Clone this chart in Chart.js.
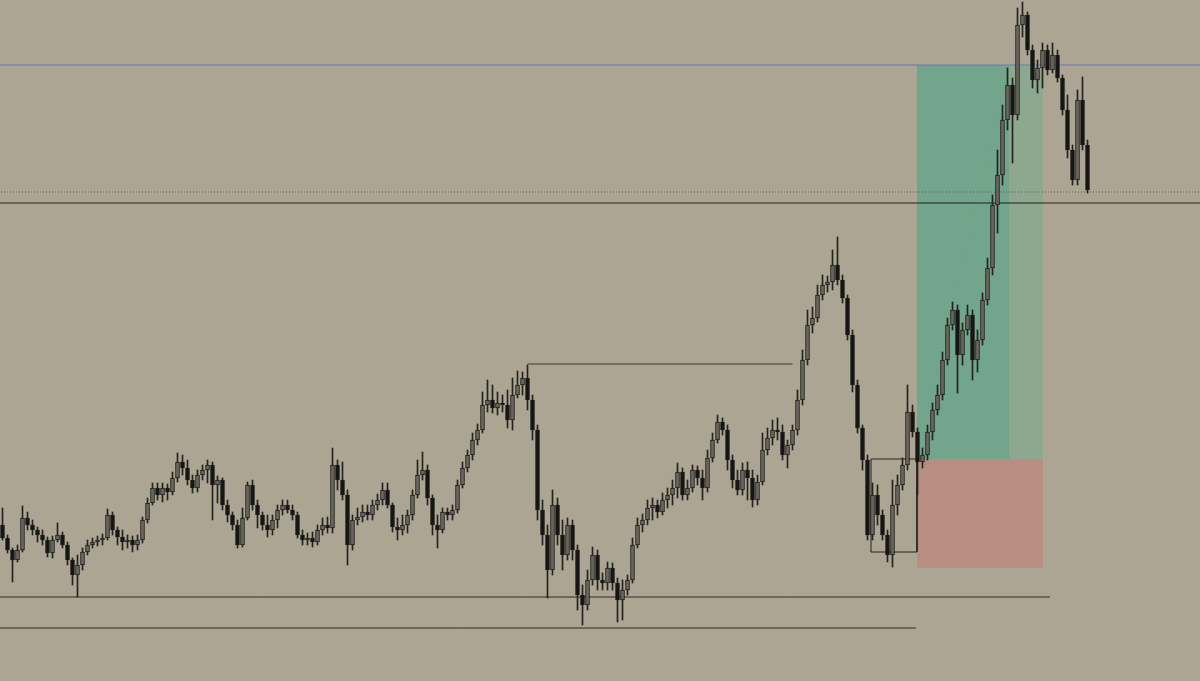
<!DOCTYPE html>
<html><head><meta charset="utf-8">
<script src="https://cdn.jsdelivr.net/npm/chart.js@4"></script>
<style>html,body{margin:0;padding:0;background:#ADA593;overflow:hidden}canvas{display:block}</style>
</head><body><canvas id="c" width="1200" height="681"></canvas>
<script>
// Candles (price units, one candle per slot)
const OPEN=[175,162,150,140,150,182,175,170,165,160,
147,160,165,155,140,125,135,148,155,158,
160,162,185,170,163,158,160,155,160,180,
197,212,205,212,208,222,238,232,220,212,
225,230,235,215,220,195,185,175,155,182,
215,195,185,175,170,180,190,195,190,185,
165,160,162,158,170,175,172,235,220,205,
155,180,183,188,185,195,200,210,195,173,
170,175,185,205,225,230,202,175,170,188,
185,190,215,232,245,260,270,295,300,292,
297,295,280,305,315,322,300,270,190,165,
130,195,165,145,175,150,105,95,120,145,
120,117,132,117,100,110,120,155,175,180,
192,195,188,200,205,212,228,205,212,230,
222,212,242,260,278,270,240,220,210,230,
222,200,218,250,262,270,268,245,255,270,
300,340,375,382,405,415,418,435,420,402,
365,315,272,240,165,205,185,165,145,195,
215,235,288,268,238,245,268,290,305,340,
375,390,345,370,385,340,360,400,432,495,
525,580,615,585,675,685,650,620,632,650,
630,645,622,590,550,520,600,555];
const HIGH=[192,165,152,155,194,188,180,173,170,163,
164,177,168,158,142,145,152,160,162,164,
166,191,188,173,170,165,164,165,183,202,
217,217,217,216,228,247,245,240,225,230,
235,240,238,224,222,200,188,180,192,218,
220,200,188,185,185,195,200,200,195,188,
170,167,168,175,182,183,252,240,238,210,
185,192,195,195,200,206,217,217,197,182,
185,190,210,240,248,235,205,185,192,192,
195,220,238,250,267,276,308,320,315,308,
305,310,322,329,328,335,305,275,200,175,
210,202,180,182,180,155,115,130,153,150,
127,138,137,122,120,125,162,182,186,200,
202,200,207,212,220,237,232,220,235,234,
230,250,267,285,282,275,245,230,237,238,
230,225,267,272,280,282,275,260,275,310,
350,390,393,415,425,424,450,463,425,405,
370,320,275,245,217,215,190,170,220,225,
242,315,295,272,252,275,297,315,348,382,
398,395,377,395,390,370,407,442,505,550,
595,632,622,692,698,688,655,640,657,655,
657,650,625,605,555,610,623,560];
const LOW=[160,147,118,138,148,170,165,158,155,143,
142,158,152,135,115,103,130,145,152,154,
155,160,165,155,150,152,148,150,157,177,
195,200,198,200,205,218,225,215,207,208,
220,217,180,197,190,178,170,152,153,180,
190,172,170,163,165,172,185,187,180,162,
155,155,153,155,165,167,167,210,200,135,
150,175,178,180,180,190,195,192,168,160,
165,167,180,202,220,195,165,152,167,180,
180,187,212,228,240,255,267,288,287,285,
288,272,270,302,305,290,260,180,155,102,
125,155,130,140,140,90,75,90,115,110,
110,110,110,78,80,105,117,152,168,175,
180,182,185,192,195,202,200,200,208,215,
200,208,238,257,265,230,212,205,205,200,
193,195,215,245,255,260,240,232,250,265,
295,335,367,378,400,408,410,415,397,360,
308,267,230,160,160,175,160,138,133,185,
210,230,263,205,232,240,260,285,300,335,
370,307,335,365,320,328,355,395,425,467,
515,570,537,580,663,645,612,607,612,625,
627,618,585,542,515,515,550,507];
const CLOSE=[162,150,140,150,182,175,170,165,160,147,
160,165,155,140,125,135,148,155,158,160,
162,185,170,163,158,160,155,160,180,197,
212,205,212,208,222,238,232,220,212,225,
230,235,215,220,195,185,175,155,182,215,
195,185,175,170,180,190,195,190,185,165,
160,162,158,170,175,172,235,220,205,155,
180,183,188,185,195,200,210,195,173,170,
175,185,205,225,230,202,175,170,188,185,
190,215,232,245,260,270,295,300,292,297,
295,280,305,315,322,300,270,190,165,130,
195,165,145,175,150,105,95,120,145,120,
117,132,117,100,110,120,155,175,180,192,
195,188,200,205,212,228,205,212,230,222,
212,242,260,278,270,240,220,210,230,222,
200,218,250,262,270,268,245,255,270,300,
340,375,382,405,415,418,435,420,402,365,
315,272,240,165,205,185,165,145,195,215,
235,288,268,238,245,268,290,305,340,375,
390,345,370,385,340,360,400,432,495,525,
580,615,585,675,685,650,620,632,650,630,
645,622,590,550,520,600,555,510];

// Horizontal levels (price) and their time spans (candle index)
const LEVEL_BLUE=635, LEVEL_BID=508, LEVEL_MAIN=497;
const LEVEL_SWING=336, SWING_FROM=105, SWING_TO=158;
const LEVEL_LOW1=103, LOW1_TO=209.5;
const LEVEL_LOW2=72, LOW2_TO=182.7;
// Consolidation box
const BOX_FROM=173.7, BOX_TO=182.9, BOX_TOP=241, BOX_BOTTOM=148;
// Long position tool
const POS_FROM=182.9, POS_MID=201.3, POS_TO=208.1;
const ENTRY=241, TARGET=635, STOP=132;

const idx = OPEN.map((_, i) => i);
const bull = idx.map(i => CLOSE[i] >= OPEN[i]);
const LEFT=-0.5, RIGHT=239.5;

const hline = (y, x0, x1, color, dash, order) => ({
  type:'line', data:[{x:x0,y},{x:x1,y}], borderColor:color, borderWidth:1,
  borderDash:dash||[], pointRadius:0, fill:false, order:order||5, tension:0
});
const rect = (x0, x1, top, bottom, color) => ({
  type:'line', data:[{x:x0,y:top},{x:x1,y:top}], borderWidth:0, borderColor:'rgba(0,0,0,0)',
  pointRadius:0, fill:{value:bottom}, backgroundColor:color, order:10
});

new Chart(document.getElementById('c'), {
  type:'bar',
  data:{datasets:[
    rect(POS_FROM, POS_MID, TARGET, ENTRY, '#72A58C'),
    rect(POS_MID, POS_TO, TARGET, ENTRY, '#8EA890'),
    rect(POS_FROM, POS_TO, ENTRY, STOP, '#B98E82'),
    hline(LEVEL_BLUE, LEFT-1, RIGHT+1, '#6479BD', [], 5),
    hline(LEVEL_BID, LEFT-1, RIGHT+1, '#5e5a52', [1,2], 5),
    hline(LEVEL_MAIN, LEFT-1, RIGHT+1, '#1d2219', [], 5),
    hline(LEVEL_SWING, SWING_FROM, SWING_TO, '#3e3a30', [], 5),
    hline(LEVEL_LOW1, LEFT-1, LOW1_TO, '#2a2a26', [], 5),
    hline(LEVEL_LOW2, LEFT-1, LOW2_TO, '#2a2a26', [], 5),
    {type:'line', data:[{x:BOX_FROM,y:BOX_TOP},{x:BOX_TO,y:BOX_TOP},{x:BOX_TO,y:BOX_BOTTOM},{x:BOX_FROM,y:BOX_BOTTOM},{x:BOX_FROM,y:BOX_TOP}],
      borderColor:'#222', borderWidth:1, pointRadius:0, fill:false, order:5, tension:0},
    {type:'line', data:[{x:POS_FROM,y:ENTRY},{x:POS_MID,y:TARGET}], borderColor:'rgba(130,150,130,0.8)',
      borderWidth:1, borderDash:[2,3], pointRadius:0, fill:false, order:4},
    {type:'bar', data:idx.map(i=>({x:i,y:[LOW[i],HIGH[i]]})), backgroundColor:'#242320',
      barThickness:1, grouped:false, order:2},
    {type:'bar', data:idx.map(i=>({x:i,y:[OPEN[i],CLOSE[i]]})),
      backgroundColor:idx.map(i=>bull[i]?'#6a665d':'#141414'),
      borderColor:'#1c1c1a', borderWidth:1, borderSkipped:false, barThickness:4, grouped:false, order:1, minBarLength:1}
  ]},
  options:{
    responsive:false, animation:false, devicePixelRatio:1,
    layout:{padding:0},
    plugins:{legend:{display:false}, tooltip:{enabled:false}},
    scales:{
      x:{type:'linear', min:LEFT, max:RIGHT, display:false, offset:false, grid:{display:false}},
      y:{type:'linear', min:19, max:700, display:false, grid:{display:false}}
    }
  }
});
</script></body></html>
